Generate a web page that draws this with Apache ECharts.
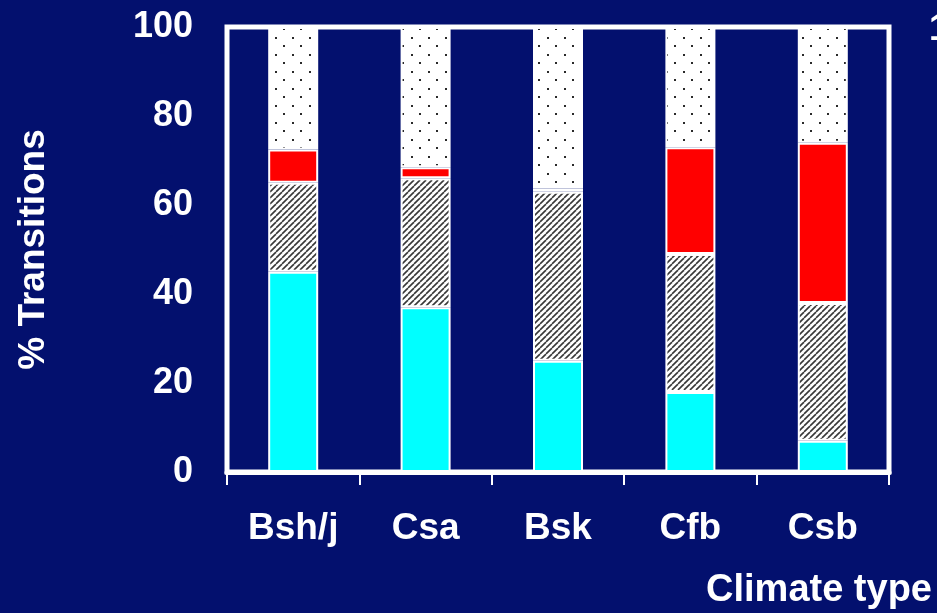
<!DOCTYPE html>
<html>
<head>
<meta charset="utf-8">
<script src="https://cdn.jsdelivr.net/npm/echarts@6/dist/echarts.min.js"></script>
<style>
  html, body { margin: 0; padding: 0; background: #03106e; }
  #chart { width: 937px; height: 613px; }
</style>
</head>
<body>
<div id="chart"></div>
<script>
// Climate types along the x axis
const categories = ['Bsh/j', 'Csa', 'Bsk', 'Cfb', 'Csb'];
// Stacked shares of transitions (%), bottom to top
const cyanShare   = [45, 37, 25, 18, 7];
const hatchShare  = [20, 29, 38, 31, 31];
const redShare    = [7.5, 2.5, 0.7, 24, 36];
const dottedShare = [27.5, 31.5, 36.3, 27, 26];
// Y axis range
const yMin = 0, yMax = 100, yStep = 20;

const FONT = '"Liberation Sans", Arial, sans-serif';
const BG = '#03106e';

// Diagonal hatch tile
function hatchTile() {
  const s = 6;
  const c = document.createElement('canvas');
  c.width = s; c.height = s;
  const g = c.getContext('2d');
  g.fillStyle = '#ffffff';
  g.fillRect(0, 0, s, s);
  g.strokeStyle = '#383838';
  g.lineWidth = 1.6;
  for (let k = -1; k <= 1; k++) {
    g.beginPath();
    g.moveTo(k * s, s);
    g.lineTo(k * s + s, 0);
    g.stroke();
  }
  return c;
}

// Staggered dot tile
function dotTile() {
  const s = 17;
  const c = document.createElement('canvas');
  c.width = s; c.height = s;
  const g = c.getContext('2d');
  g.fillStyle = '#ffffff';
  g.fillRect(0, 0, s, s);
  g.fillStyle = '#2a2a2a';
  g.fillRect(3, 3, 2, 2);
  g.fillRect(11, 11, 2, 2);
  return c;
}

const hatchFill = { image: hatchTile(), repeat: 'repeat' };
const dotFill = { image: dotTile(), repeat: 'repeat' };

function segment(name, data, color) {
  return {
    name: name,
    type: 'bar',
    stack: 'total',
    barWidth: 50,
    data: data,
    itemStyle: { color: color, borderColor: '#ffffff', borderWidth: 2 },
    emphasis: { disabled: true },
    animation: false
  };
}

const chart = echarts.init(document.getElementById('chart'), null, { renderer: 'canvas' });
chart.setOption({
  backgroundColor: BG,
  animation: false,
  grid: {
    left: 227, right: 48, top: 27, bottom: 141,
    show: true, borderColor: '#ffffff', borderWidth: 5, backgroundColor: 'transparent'
  },
  xAxis: {
    type: 'category',
    data: categories,
    axisLine: { show: true, lineStyle: { color: '#ffffff', width: 5 } },
    axisTick: { show: true, length: 13, lineStyle: { color: '#ffffff', width: 2 } },
    axisLabel: { color: '#ffffff', fontFamily: FONT, fontWeight: 'bold', fontSize: 37, margin: 38 },
    splitLine: { show: false }
  },
  yAxis: {
    type: 'value',
    min: yMin, max: yMax, interval: yStep,
    axisLine: { show: false },
    axisTick: { show: false },
    splitLine: { show: false },
    axisLabel: { color: '#ffffff', fontFamily: FONT, fontWeight: 'bold', fontSize: 36, margin: 34 },
    name: '% Transitions',
    nameLocation: 'middle',
    nameRotate: 90,
    nameGap: 175,
    nameTextStyle: { color: '#ffffff', fontFamily: FONT, fontWeight: 'bold', fontSize: 37 }
  },
  series: [
    segment('cyan', cyanShare, '#00ffff'),
    segment('hatch', hatchShare, hatchFill),
    segment('red', redShare, '#ff0000'),
    segment('dotted', dottedShare, dotFill)
  ],
  graphic: [
    {
      type: 'text', right: 5, top: 572,
      style: { text: 'Climate type', fill: '#ffffff', font: 'bold 38px ' + FONT }
    },
    {
      type: 'text', left: 929, top: 12,
      style: { text: '1', fill: '#ffffff', font: 'bold 36px ' + FONT }
    }
  ]
});
</script>
</body>
</html>
